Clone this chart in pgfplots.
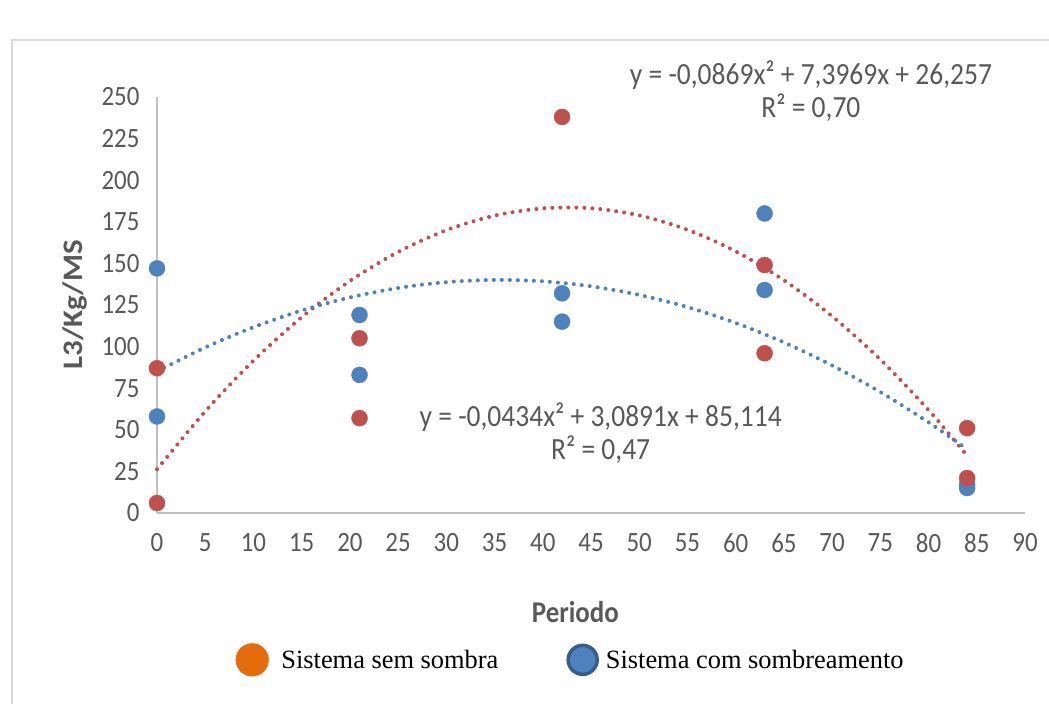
\documentclass[border=0pt]{standalone}
\usepackage{fontspec}
\setmainfont{Carlito}
\newfontfamily\serifleg{Liberation Serif}
\usepackage{pgfplots}
\pgfplotsset{compat=1.18}
\definecolor{redpt}{HTML}{C0504D}
\definecolor{bluept}{HTML}{4F81BD}
\definecolor{legor}{HTML}{E46C0A}
\definecolor{legbd}{HTML}{385D8A}
\definecolor{txtgray}{HTML}{595959}
\definecolor{axgray}{HTML}{BFBFBF}
\definecolor{framegray}{HTML}{D9D9D9}
\newcommand{\tall}[1]{\scalebox{1}[1.12]{#1}}
\begin{document}
\begin{tikzpicture}[x=1bp,y=1bp]
\useasboundingbox (0,0) rectangle (1049,704);
\fill[white] (0,0) rectangle (1049,704);
\draw[framegray, line width=2] (12,-10) -- (12,664) -- (1060,664);
\begin{axis}[
  at={(157bp,191bp)}, anchor=south west,
  scale only axis, width=868bp, height=416bp,
  xmin=0, xmax=90, ymin=0, ymax=250,
  axis x line=bottom, axis y line=left,
  axis line style={-, axgray, line width=2bp},
  xtick={0,5,...,90}, ytick={0,25,...,250},
  major tick length=0pt, tick style={draw=none},
  ticklabel style={font=\fontsize{25}{30}\selectfont, text=txtgray},
  xticklabel={\tall{\pgfmathprintnumber[assume math mode=true]{\tick}}},
  yticklabel={\tall{\pgfmathprintnumber[assume math mode=true]{\tick}}},
  xticklabel style={yshift=-17bp},
  yticklabel style={xshift=-14bp},
  xlabel={\tall{Periodo}}, ylabel={\scalebox{1.15}[1.05]{L3/Kg/MS}},
  label style={font=\bfseries\fontsize{27}{32}\selectfont, text=txtgray},
  xlabel style={at={(axis description cs:0.482,-0.238)}, anchor=center},
  ylabel style={at={(axis description cs:-0.0945,0.5)}, anchor=center},
  clip=false,
  legend columns=2,
  legend style={at={(axis description cs:0.4765,-0.353)}, anchor=center, draw=none, fill=none,
    font=\serifleg\fontsize{26.5}{30}\selectfont,
    /tikz/every even column/.append style={column sep=66bp}},
]
\addplot[only marks, mark=*, mark size=8bp, color=bluept, forget plot] coordinates {
(0,147) (0,58) (21,119) (21,83) (42,132) (42,115) (63,180) (63,134) (84,17) (84,15)};
\addplot[only marks, mark=*, mark size=8bp, color=redpt, forget plot] coordinates {
(0,87) (0,6) (21,105) (21,57) (42,238) (63,149) (63,96) (84,51) (84,21)};
\addplot[redpt, smooth, line width=4bp, line cap=round, dash pattern=on 0.01bp off 8bp, forget plot] coordinates {
(0,26.26) (5,61.07) (10,91.54) (15,117.66) (20,139.44) (25,156.87) (30,169.96) (35,178.70) (40,183.09) (45,183.15) (50,178.85) (55,170.22) (60,157.23) (65,139.90) (70,118.23) (75,92.21) (80,61.85) (84,34.43)};
\addplot[bluept, smooth, line width=4bp, line cap=round, dash pattern=on 0.01bp off 8bp, forget plot] coordinates {
(0,85.11) (5,99.48) (10,111.66) (15,121.69) (20,129.53) (25,135.22) (30,138.73) (35,140.07) (40,139.24) (45,136.24) (50,131.07) (55,123.73) (60,114.22) (65,102.54) (70,88.69) (75,72.67) (80,54.48) (84,38.37)};
\node[font=\fontsize{27.6}{33}\selectfont, text=txtgray, align=center] at (axis cs:67.8,253.3) {\tall{y = -0,0869x² + 7,3969x + 26,257}\\\tall{R² = 0,70}};
\node[font=\fontsize{27.6}{33}\selectfont, text=txtgray, align=center] at (axis cs:46.0,47.8) {\tall{y = -0,0434x² + 3,0891x + 85,114}\\\tall{R² = 0,47}};
\addlegendimage{legend image code/.code={\draw[fill=legor, draw=legor, line width=0.5bp] (0bp,0bp) circle [radius=16.3bp]; \path (27bp,0bp);}}
\addlegendentry{Sistema sem sombra}
\addlegendimage{legend image code/.code={\draw[fill=bluept, draw=legbd, line width=3.5bp] (0bp,0bp) circle [radius=14.5bp]; \path (21bp,0bp);}}
\addlegendentry{Sistema com sombreamento}
\end{axis}
\end{tikzpicture}
\end{document}
